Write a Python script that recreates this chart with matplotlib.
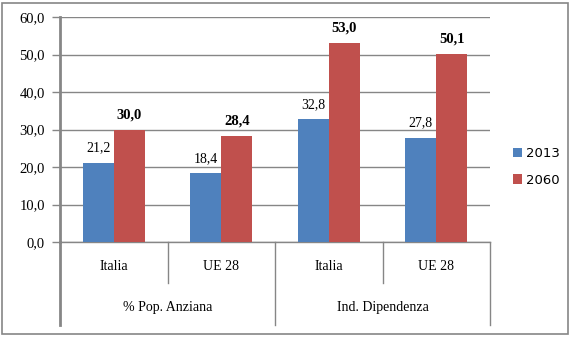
import matplotlib
matplotlib.use("Agg")
import matplotlib.pyplot as plt
import numpy as np
from matplotlib.patches import Rectangle

# data
categories = ["Italia", "UE 28", "Italia", "UE 28"]
groups = ["% Pop. Anziana", "Ind. Dipendenza"]
serie_2013 = [21.2, 18.4, 32.8, 27.8]
serie_2060 = [30.0, 28.4, 53.0, 50.1]
anni = ["2013", "2060"]

blu = "#4F81BD"
rosso = "#C0504D"
grigio = "#868686"
serif = "Liberation Serif"

fig = plt.figure(figsize=(5.76, 3.37), dpi=100)
fig.patches.append(Rectangle((2 / 576, 3 / 337), 566 / 576, 331 / 337,
                             transform=fig.transFigure, fill=False,
                             edgecolor=grigio, linewidth=1.2))

ax = fig.add_axes([60 / 576, 1 - 242 / 337, 430 / 576, 225 / 337])

x = np.arange(len(categories))
w = 0.29
b1 = ax.bar(x - w / 2, serie_2013, w, color=blu, label=anni[0], zorder=3)
b2 = ax.bar(x + w / 2, serie_2060, w, color=rosso, label=anni[1], zorder=3)

for rect, v in zip(b1, serie_2013):
    ax.text(rect.get_x() + rect.get_width() / 2, v + 2.2, f"{v:.1f}".replace(".", ","),
            ha="center", va="bottom", fontsize=10, family=serif)
for rect, v in zip(b2, serie_2060):
    ax.text(rect.get_x() + rect.get_width() / 2, v + 2.2, f"{v:.1f}".replace(".", ","),
            ha="center", va="bottom", fontsize=10.5, family=serif, fontweight="bold")

ax.set_xlim(-0.5, len(categories) - 0.5)
ax.set_ylim(0, 60)
ax.set_yticks(np.arange(0, 61, 10))
ax.set_yticklabels([f"{t:.1f}".replace(".", ",") for t in np.arange(0, 61, 10)],
                   family=serif, fontsize=10.5)
ax.yaxis.grid(True, color=grigio, linewidth=1, zorder=0)
ax.set_axisbelow(True)
ax.tick_params(axis="y", length=6, color=grigio, width=1, pad=5)
ax.set_xticks([])

for s in ["top", "right"]:
    ax.spines[s].set_visible(False)
ax.spines["left"].set_color(grigio)
ax.spines["left"].set_linewidth(2)
ax.spines["bottom"].set_color(grigio)
ax.spines["bottom"].set_linewidth(1)

# category axis with two label levels
trans = ax.get_xaxis_transform()
short = -41 / 225
long_ = -83 / 225
ax.plot([-0.5, -0.5], [0, long_], transform=trans, color=grigio, lw=2, clip_on=False)
for xs, depth in [(0.5, short), (1.5, long_), (2.5, short), (3.5, long_)]:
    ax.plot([xs, xs], [0, depth], transform=trans, color=grigio, lw=1, clip_on=False)

for xi, lab in zip(x, categories):
    ax.text(xi, -25 / 225, lab, transform=trans, ha="center", va="center",
            fontsize=10, family=serif)
for gi, lab in enumerate(groups):
    ax.text(2 * gi + 0.5, -66 / 225, lab, transform=trans, ha="center", va="center",
            fontsize=10, family=serif)

leg = fig.legend(loc="center left", bbox_to_anchor=(501 / 576, 1 - 167 / 337),
                 frameon=False, fontsize=9.5, handlelength=0.7, handleheight=0.7,
                 handletextpad=0.3, labelspacing=1.0)

fig.savefig("out.png", dpi=100)
